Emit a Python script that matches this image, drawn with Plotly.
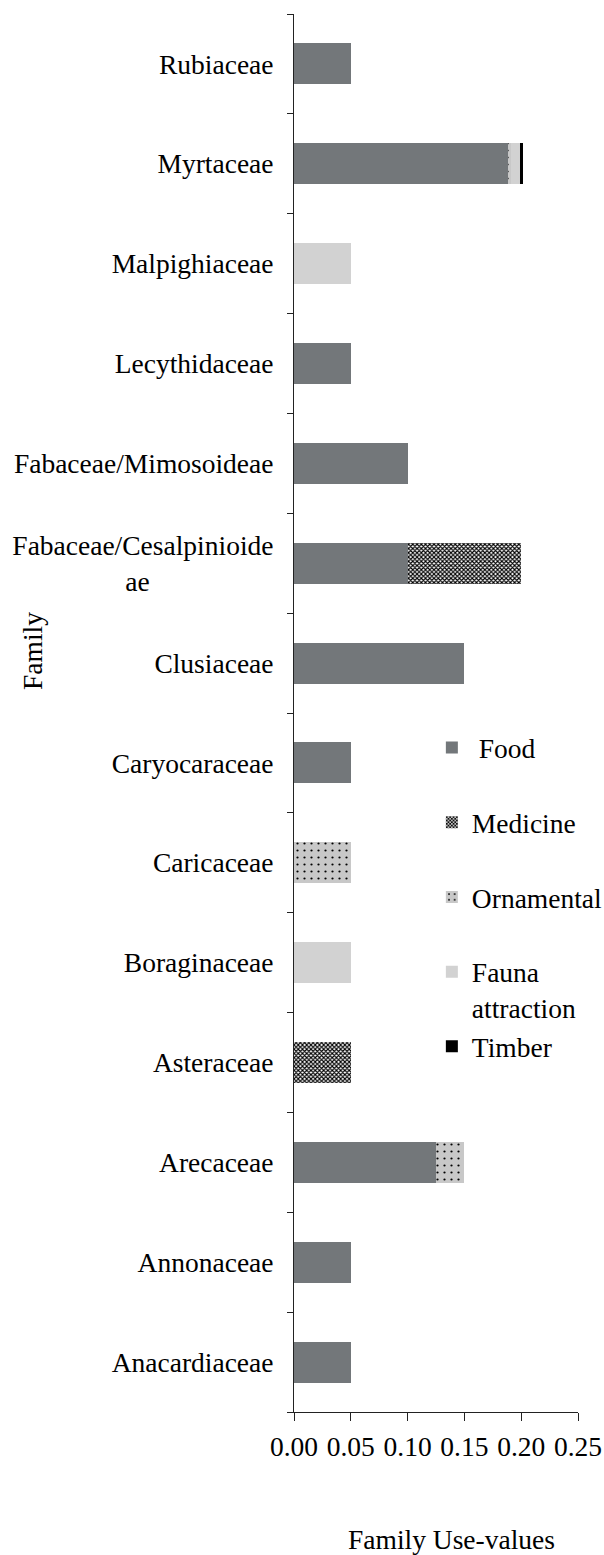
import plotly.graph_objects as go

families = ["Rubiaceae", "Myrtaceae", "Malpighiaceae", "Lecythidaceae",
            "Fabaceae/Mimosoideae", "Fabaceae/Cesalpinioideae", "Clusiaceae",
            "Caryocaraceae", "Caricaceae", "Boraginaceae", "Asteraceae",
            "Arecaceae", "Annonaceae", "Anacardiaceae"]
family_labels = ["Rubiaceae", "Myrtaceae", "Malpighiaceae", "Lecythidaceae",
                 "Fabaceae/Mimosoideae",
                 "Fabaceae/Cesalpinioide<br>ae" + "\u00a0" * 18,
                 "Clusiaceae", "Caryocaraceae", "Caricaceae", "Boraginaceae",
                 "Asteraceae", "Arecaceae", "Annonaceae", "Anacardiaceae"]

food       = [0.05, 0.188, 0, 0.05, 0.10, 0.10, 0.15, 0.05, 0, 0, 0, 0.125, 0.05, 0.05]
medicine   = [0, 0, 0, 0, 0, 0.10, 0, 0, 0, 0, 0.05, 0, 0, 0]
ornamental = [0, 0.003, 0, 0, 0, 0, 0, 0, 0.05, 0, 0, 0.025, 0, 0]
fauna      = [0, 0.008, 0.05, 0, 0, 0, 0, 0, 0, 0.05, 0, 0, 0, 0]
timber     = [0, 0.003, 0, 0, 0, 0, 0, 0, 0, 0, 0, 0, 0, 0]

x_ticks = [0.00, 0.05, 0.10, 0.15, 0.20, 0.25]

FONT = "Liberation Serif"
FS = 27.5

fig = go.Figure()
fig.add_trace(go.Bar(y=families, x=food, orientation="h", name="\u00a0Food",
                     legendgroup="a", marker=dict(color="#73777a", line=dict(width=0))))
fig.add_trace(go.Bar(y=families, x=medicine, orientation="h", name="Medicine",
                     legendgroup="b",
                     marker=dict(color="white", line=dict(width=0),
                                 pattern=dict(shape="x", size=3, solidity=0.6,
                                              fgcolor="black", bgcolor="white",
                                              fillmode="replace"))))
fig.add_trace(go.Bar(y=families, x=ornamental, orientation="h", name="Ornamental",
                     legendgroup="c",
                     marker=dict(color="#c8c8c8", line=dict(width=0),
                                 pattern=dict(shape=".", size=7, solidity=0.08,
                                              fgcolor="black", bgcolor="#c8c8c8",
                                              fillmode="replace"))))
fig.add_trace(go.Bar(y=families, x=fauna, orientation="h", name="Fauna<br>attraction",
                     legendgroup="d", marker=dict(color="#d2d2d2", line=dict(width=0))))
fig.add_trace(go.Bar(y=families, x=timber, orientation="h", name="Timber",
                     legendgroup="d", marker=dict(color="black", line=dict(width=0))))

fig.update_layout(
    width=604, height=1555,
    margin=dict(l=294, r=26, t=14, b=143, autoexpand=False),
    barmode="stack", bargap=0.59,
    plot_bgcolor="white", paper_bgcolor="white",
    font=dict(family=FONT, size=FS, color="black"),
    legend=dict(x=0.715, y=0.535, xanchor="left", yanchor="top",
                xref="container", yref="container",
                traceorder="grouped", tracegroupgap=36, valign="top",
                font=dict(family=FONT, size=FS, color="black"),
                bgcolor="rgba(0,0,0,0)"),
    xaxis=dict(range=[0, 0.25], tickvals=x_ticks, tickformat=".2f",
               showgrid=False, zeroline=False, showline=True, linecolor="#222",
               linewidth=1, ticks="outside", ticklen=8, tickcolor="#222",
               ticklabelstandoff=2, automargin=False, tickangle=0,
               tickfont=dict(family=FONT, size=FS, color="black")),
    yaxis=dict(categoryorder="array", categoryarray=families,
               tickvals=families, ticktext=family_labels,
               autorange="reversed", showgrid=False, zeroline=False,
               showline=True, linecolor="#222", linewidth=1,
               ticks="outside", ticklen=6, tickcolor="#222",
               tickson="boundaries", ticklabelstandoff=14, automargin=False,
               tickfont=dict(family=FONT, size=FS, color="black")),
    annotations=[
        dict(text="Family", xref="paper", yref="paper",
             x=-0.919, y=0.5444, xanchor="center", yanchor="middle",
             textangle=-90, showarrow=False,
             font=dict(family=FONT, size=FS, color="black")),
        dict(text="Family Use-values", xref="paper", yref="paper",
             x=0.556, y=-0.091, xanchor="center", yanchor="middle",
             showarrow=False,
             font=dict(family=FONT, size=FS, color="black")),
    ],
)

fig.write_html("out.html",
               config={"displayModeBar": False},
               post_script="document.body.style.margin='0';"
                           "document.body.style.overflow='hidden';")
